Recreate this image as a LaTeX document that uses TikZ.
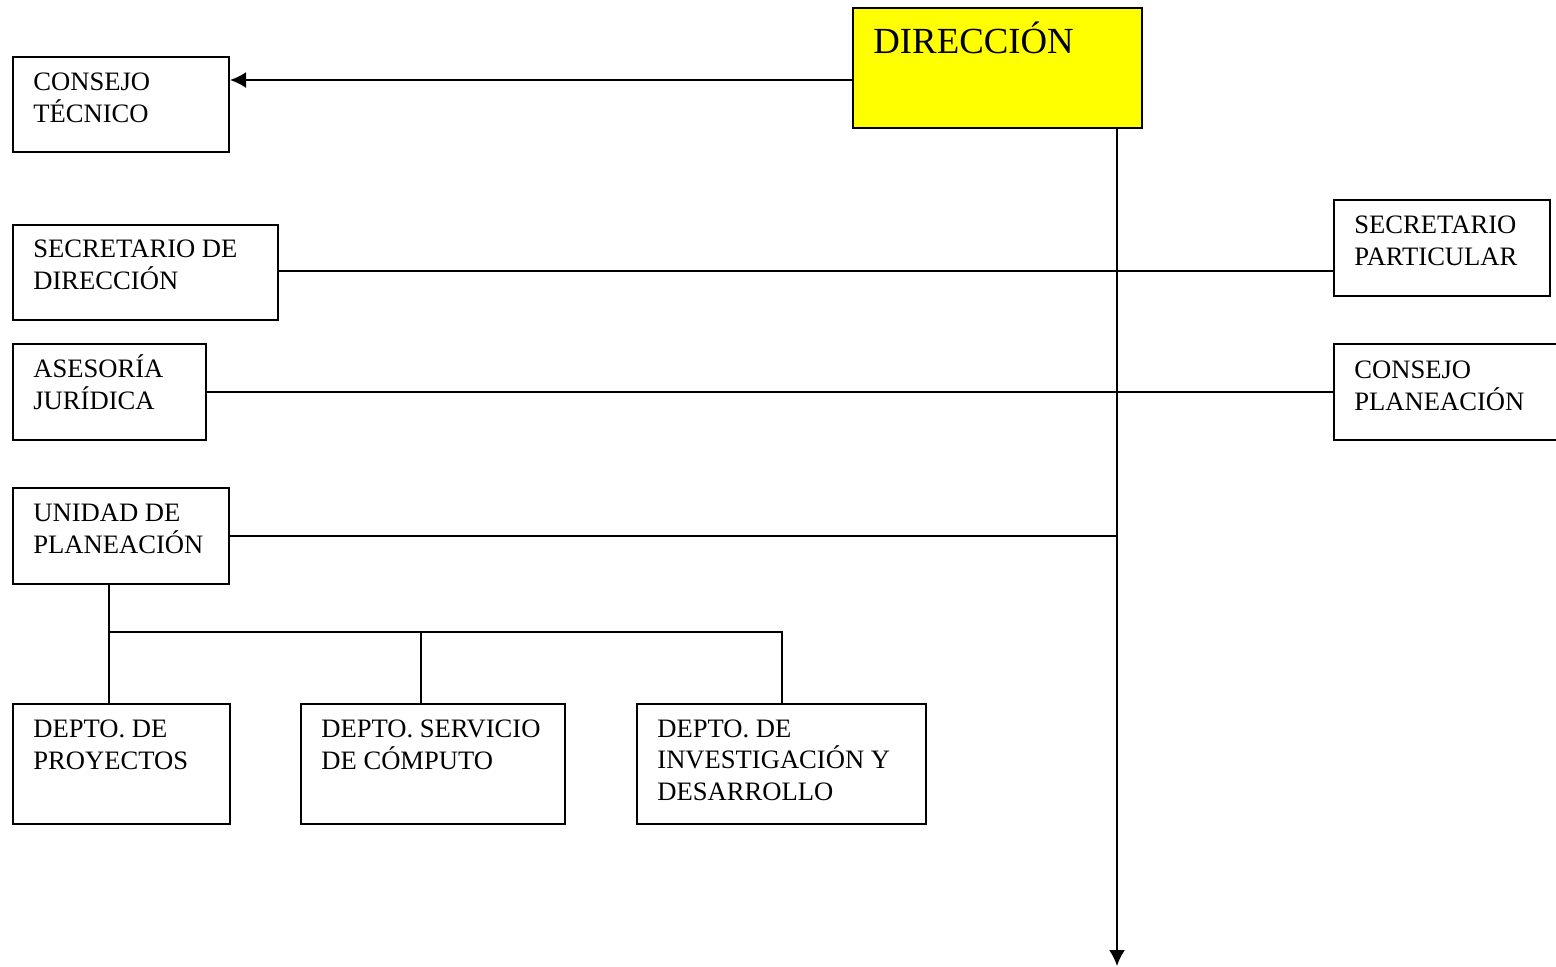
\documentclass[tikz,border=0pt]{standalone}
\usepackage{fontspec}
\setmainfont{Liberation Serif}
\usetikzlibrary{arrows.meta,fit}
\definecolor{dirfill}{RGB}{255,255,0}

\begin{document}
\begin{tikzpicture}[x=0.5pt,y=-0.5pt,
  box/.style={draw,line width=1pt,inner sep=0pt},
  txt/.style={anchor=base west,align=left,inner sep=0pt,font=\rmfamily\fontsize{13.3}{15.6}\selectfont},
  line/.style={line width=1pt},
  tip/.style={-{Latex[length=8pt,width=8pt]}}]

\useasboundingbox (0,0) rectangle (1556,966);

\node[box,fill=dirfill,fit={(853,8) (1142,128)}] (dir) {};
\node[anchor=base west,inner sep=0pt,font=\rmfamily\fontsize{18.4}{21}\selectfont] (dir-t) at ([shift={(21,46)}]dir.north west) {DIRECCIÓN};

% the text nodes sit on the baseline of their last line
\node[box,fit={(13,57) (229,152)}] (ctec) {};
\node[txt] (ctec-t) at ([shift={(21,66)}]ctec.north west) {CONSEJO\\TÉCNICO};

\node[box,fit={(13,225) (278,320)}] (sdir) {};
\node[txt] (sdir-t) at ([shift={(21,65)}]sdir.north west) {SECRETARIO DE\\DIRECCIÓN};

\node[box,fit={(13,344) (206,440)}] (ajur) {};
\node[txt] (ajur-t) at ([shift={(21,66)}]ajur.north west) {ASESORÍA\\JURÍDICA};

\node[box,fit={(13,488) (229,584)}] (upla) {};
\node[txt] (upla-t) at ([shift={(21,66)}]upla.north west) {UNIDAD DE\\PLANEACIÓN};

\node[box,fit={(1334,200) (1550,296)}] (spart) {};
\node[txt] (spart-t) at ([shift={(21,66)}]spart.north west) {SECRETARIO\\PARTICULAR};

\node[box,fit={(1334,344) (1580,440)}] (cplan) {};
\node[txt] (cplan-t) at ([shift={(21,67)}]cplan.north west) {CONSEJO\\PLANEACIÓN};

\node[box,fit={(13,704) (230,824)}] (dproy) {};
\node[txt] (dproy-t) at ([shift={(21,66)}]dproy.north west) {DEPTO. DE\\PROYECTOS};

\node[box,fit={(301,704) (565,824)}] (dserv) {};
\node[txt] (dserv-t) at ([shift={(21,66)}]dserv.north west) {DEPTO. SERVICIO\\DE CÓMPUTO};

\node[box,fit={(637,704) (926,824)}] (dinv) {};
\node[txt] (dinv-t) at ([shift={(21,97)}]dinv.north west) {DEPTO. DE\\INVESTIGACIÓN Y\\DESARROLLO};

\coordinate (fin) at (1117,966);
\coordinate (split) at (109,632);

% direccion
\draw[line,tip] (dir.west |- 0,80) -- (ctec.east |- 0,80);
\draw[line,tip] (dir.south -| fin) -- (fin);

\draw[line] (sdir.east |- 0,271) -- (spart.west |- 0,271);
\draw[line] (ajur.east) -- (cplan.west |- ajur.east);
\draw[line] (upla.east) -- (upla.east -| fin);

% departamentos
\draw[line] (upla.south -| split) -- (dproy.north -| split);
\draw[line] (split) -| (dinv.north);
\draw[line] (split -| 421,0) -- (dserv.north -| 421,0);

\end{tikzpicture}
\end{document}
